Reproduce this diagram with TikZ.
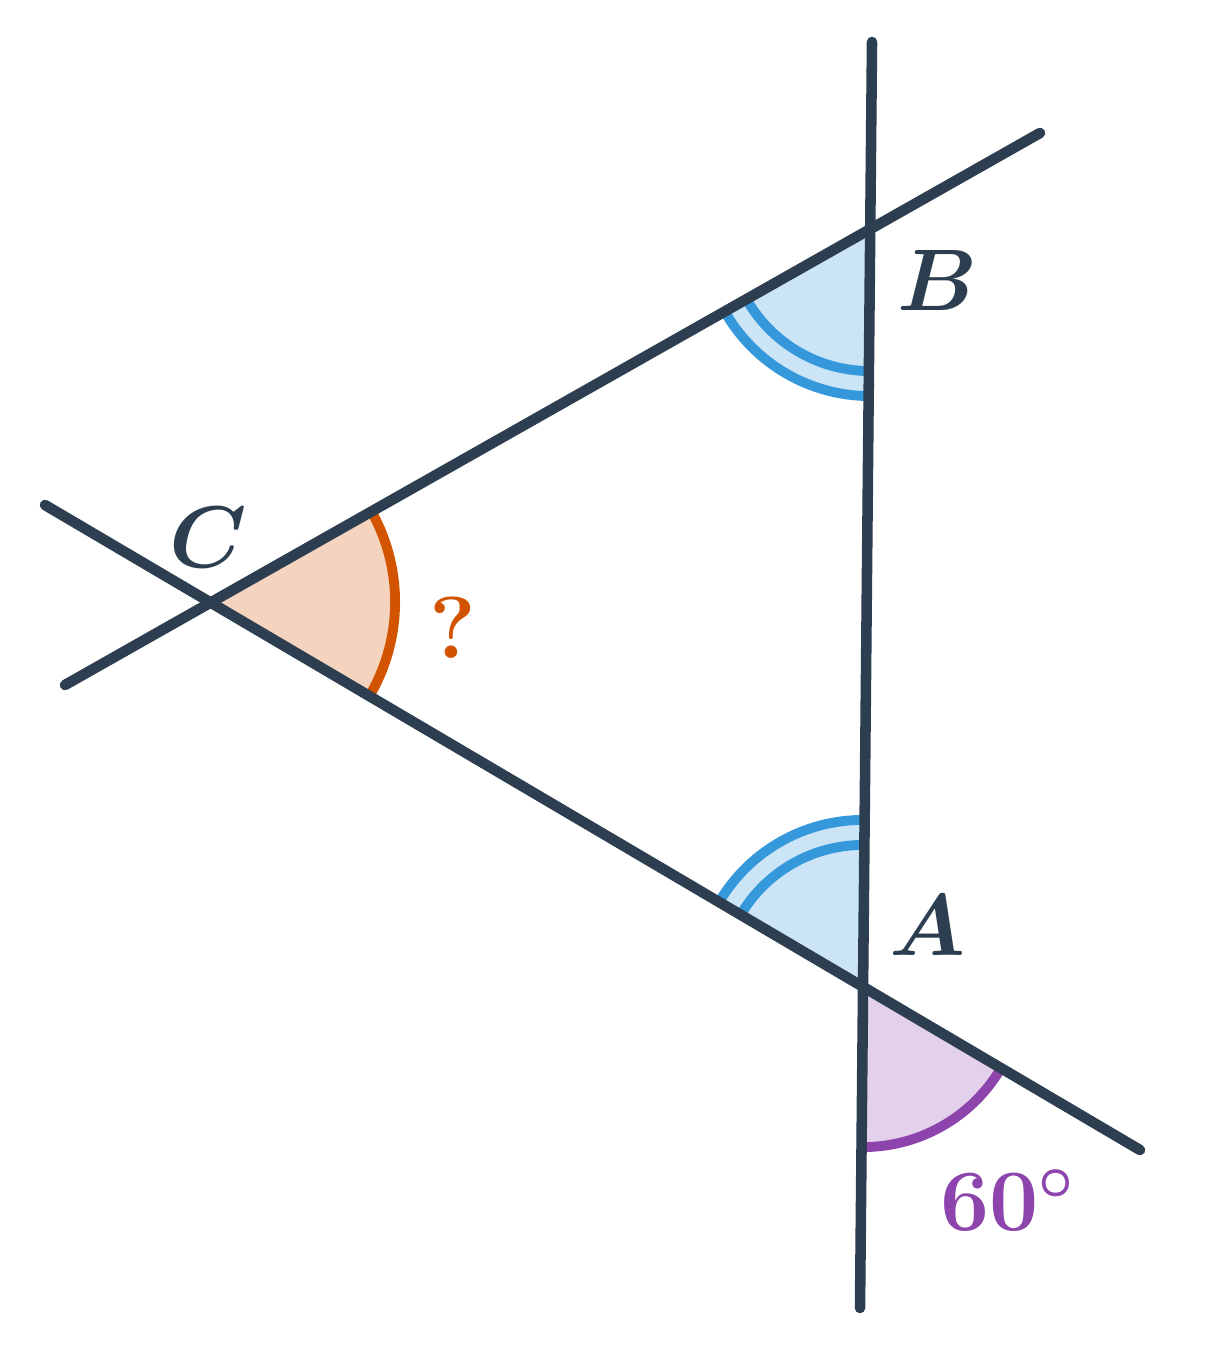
\documentclass[tikz,border=0pt]{standalone}
\usepackage{amsmath, amssymb}
\usepackage{tikz}
\usetikzlibrary{angles}

\definecolor{linedark}{HTML}{2C3E50}
\definecolor{angblue}{HTML}{3498DB}
\definecolor{angpurple}{HTML}{8E44AD}
\definecolor{angorange}{HTML}{D35400}

\tikzset{
    mainline/.style={linedark, line width=3pt, line cap=round},
    arcline/.style={line width=2.8pt},
    label/.style={font=\fontsize{25}{30}\selectfont\boldmath}
}

\begin{document}
\begin{tikzpicture}[x=0.01cm, y=0.01cm]
        \useasboundingbox (0,0) rectangle (1229,-1346);

        % Vertices and line ends
        \coordinate (A) at (863,-987);
        \coordinate (B) at (870,-229);
        \coordinate (C) at (210,-602);
        \coordinate (Top) at (872,-42);
        \coordinate (Bot) at (860,-1308);
        \coordinate (BEnd) at (1040,-133);
        \coordinate (CEnd) at (65,-685);
        \coordinate (CTail) at (45,-505);
        \coordinate (AEnd) at (1140,-1150);

        % Angle fills
        \pic[fill=angblue!25, angle radius=1.67cm] {angle = C--B--A};
        \pic[fill=angblue!25, angle radius=1.67cm] {angle = B--A--C};
        \pic[fill=angpurple!25, angle radius=1.6cm] {angle = Bot--A--AEnd};
        \pic[fill=angorange!25, angle radius=1.85cm] {angle = A--C--B};

        % Angle arcs
        \foreach \r in {1.42,1.67} {
            \pic[draw=angblue, arcline, angle radius=\r cm] {angle = C--B--A};
            \pic[draw=angblue, arcline, angle radius=\r cm] {angle = B--A--C};
        }
        \pic[draw=angpurple, arcline, angle radius=1.6cm] {angle = Bot--A--AEnd};
        \pic[draw=angorange, arcline, angle radius=1.85cm] {angle = A--C--B};

        % Lines
        \draw[mainline] (Top) -- (Bot);
        \draw[mainline] (BEnd) -- (CEnd);
        \draw[mainline] (CTail) -- (AEnd);

        % Labels
        \node[label, text=linedark] (LA) at (928,-925) {$A$};
        \node[label, text=linedark] (LB) at (938,-280) {$B$};
        \node[label, text=linedark] (LC) at (208,-537) {$C$};
        \node[label, text=angorange] (LQ) at (453,-628) {\bfseries ?};
        \node[label, text=angpurple] (LD) at (1008,-1200) {$60^\circ$};
    \end{tikzpicture}
\end{document}
